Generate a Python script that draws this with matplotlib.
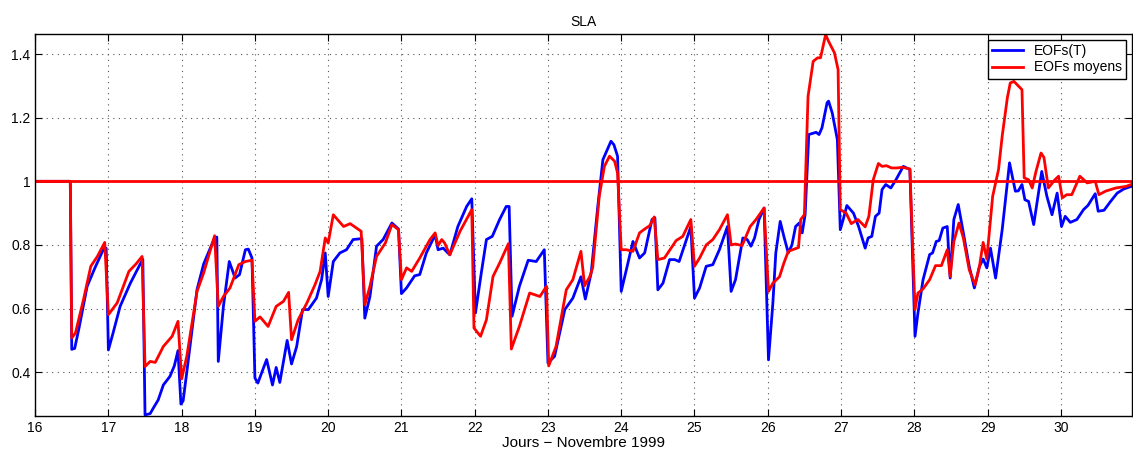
import numpy as np
import matplotlib
matplotlib.use("Agg")
import matplotlib.pyplot as plt
from matplotlib.ticker import FuncFormatter

plt.rcParams['font.family'] = ['Liberation Sans', 'DejaVu Sans']

# EOFs(T) - blue
days_t = [16.0, 16.48, 16.50, 16.54, 16.60, 16.71, 16.82, 16.93, 16.97, 17.0, 17.06, 17.16, 17.30, 17.43, 17.47,
          17.5, 17.57, 17.62, 17.68, 17.75, 17.84, 17.90, 17.95, 17.99, 18.02, 18.07, 18.21, 18.30, 18.44, 18.48,
          18.50, 18.57, 18.65, 18.73, 18.79, 18.87, 18.91, 18.96, 19.0, 19.04, 19.16, 19.24, 19.29, 19.34, 19.44,
          19.50, 19.57, 19.65, 19.73, 19.84, 19.91, 19.96, 20.0, 20.07, 20.16, 20.25, 20.34, 20.46, 20.50, 20.57,
          20.66, 20.75, 20.87, 20.96, 21.0, 21.07, 21.18, 21.25, 21.34, 21.46, 21.50, 21.57, 21.66, 21.77, 21.89,
          21.96, 22.01, 22.09, 22.16, 22.24, 22.34, 22.43, 22.47, 22.51, 22.61, 22.73, 22.84, 22.95, 23.0, 23.09,
          23.23, 23.34, 23.45, 23.51, 23.59, 23.68, 23.75, 23.86, 23.90, 23.95, 24.0, 24.07, 24.16, 24.25, 24.32,
          24.42, 24.46, 24.50, 24.57, 24.66, 24.73, 24.79, 24.86, 24.95, 25.0, 25.07, 25.16, 25.25, 25.34, 25.45,
          25.50, 25.56, 25.66, 25.72, 25.77, 25.82, 25.88, 25.95, 26.01, 26.07, 26.11, 26.17, 26.22, 26.28, 26.33,
          26.38, 26.43, 26.47, 26.51, 26.56, 26.66, 26.70, 26.74, 26.81, 26.83, 26.88, 26.95, 26.99, 27.03, 27.08,
          27.17, 27.24, 27.33, 27.37, 27.42, 27.47, 27.52, 27.56, 27.61, 27.68, 27.75, 27.85, 27.94, 28.01, 28.05,
          28.12, 28.21, 28.25, 28.30, 28.34, 28.39, 28.45, 28.49, 28.54, 28.60, 28.67, 28.75, 28.82, 28.89, 28.94,
          28.99, 29.04, 29.11, 29.20, 29.30, 29.38, 29.42, 29.47, 29.51, 29.56, 29.63, 29.74, 29.81, 29.88, 29.95,
          30.01, 30.06, 30.13, 30.22, 30.31, 30.37, 30.47, 30.51, 30.59, 30.68, 30.77, 30.86, 30.96]
sla_t = [1.0, 1.0, 0.472, 0.475, 0.54, 0.67, 0.73, 0.785, 0.79, 0.47, 0.52, 0.607, 0.68, 0.738, 0.755,
         0.266, 0.27, 0.29, 0.313, 0.36, 0.387, 0.42, 0.468, 0.30, 0.31, 0.40, 0.66, 0.74, 0.817, 0.825,
         0.434, 0.607, 0.748, 0.696, 0.707, 0.785, 0.787, 0.759, 0.382, 0.366, 0.44, 0.36, 0.415, 0.368, 0.50,
         0.426, 0.481, 0.597, 0.597, 0.633, 0.691, 0.775, 0.638, 0.748, 0.775, 0.785, 0.817, 0.82, 0.57, 0.638,
         0.796, 0.817, 0.869, 0.85, 0.647, 0.665, 0.703, 0.707, 0.775, 0.832, 0.785, 0.79, 0.769, 0.858, 0.921,
         0.945, 0.586, 0.712, 0.817, 0.827, 0.88, 0.921, 0.921, 0.576, 0.67, 0.752, 0.748, 0.785, 0.429, 0.45,
         0.597, 0.633, 0.70, 0.63, 0.712, 0.921, 1.068, 1.126, 1.115, 1.079, 0.654, 0.722, 0.811, 0.759, 0.775,
         0.88, 0.885, 0.659, 0.68, 0.754, 0.754, 0.748, 0.796, 0.858, 0.633, 0.665, 0.733, 0.738, 0.785, 0.858,
         0.654, 0.691, 0.822, 0.817, 0.796, 0.822, 0.88, 0.916, 0.439, 0.618, 0.775, 0.874, 0.827, 0.775, 0.80,
         0.858, 0.869, 0.838, 0.895, 1.147, 1.154, 1.147, 1.168, 1.247, 1.252, 1.215, 1.131, 0.848, 0.88, 0.924,
         0.90, 0.858, 0.79, 0.822, 0.827, 0.89, 0.90, 0.974, 0.99, 0.979, 1.005, 1.047, 1.037, 0.513, 0.586,
         0.691, 0.77, 0.775, 0.811, 0.814, 0.853, 0.858, 0.696, 0.88, 0.927, 0.838, 0.733, 0.665, 0.733, 0.756,
         0.728, 0.79, 0.696, 0.848, 1.058, 0.969, 0.97, 0.99, 0.942, 0.937, 0.864, 1.031, 0.953, 0.895, 0.963,
         0.858, 0.89, 0.871, 0.88, 0.911, 0.924, 0.961, 0.906, 0.909, 0.937, 0.963, 0.976, 0.984]

# EOFs moyens - red
days_m = [16.0, 16.48, 16.50, 16.55, 16.66, 16.76, 16.85, 16.95, 17.0, 17.12, 17.28, 17.38, 17.46, 17.5, 17.57,
          17.64, 17.75, 17.87, 17.95, 18.0, 18.07, 18.21, 18.30, 18.45, 18.50, 18.57, 18.66, 18.78, 18.87, 18.96,
          19.0, 19.07, 19.18, 19.29, 19.39, 19.46, 19.50, 19.59, 19.71, 19.82, 19.89, 19.96, 20.0, 20.07, 20.21,
          20.30, 20.45, 20.50, 20.57, 20.66, 20.78, 20.87, 20.96, 21.0, 21.07, 21.14, 21.25, 21.39, 21.46, 21.50,
          21.55, 21.59, 21.66, 21.80, 21.96, 21.99, 22.08, 22.16, 22.25, 22.34, 22.46, 22.50, 22.61, 22.75, 22.89,
          22.98, 23.01, 23.11, 23.25, 23.34, 23.45, 23.50, 23.57, 23.61, 23.70, 23.77, 23.84, 23.91, 23.95, 24.0,
          24.07, 24.16, 24.25, 24.32, 24.39, 24.45, 24.50, 24.59, 24.68, 24.75, 24.84, 24.95, 25.0, 25.07, 25.16,
          25.25, 25.34, 25.45, 25.50, 25.56, 25.65, 25.76, 25.84, 25.95, 26.01, 26.07, 26.16, 26.22, 26.28, 26.36,
          26.42, 26.45, 26.50, 26.55, 26.62, 26.68, 26.72, 26.79, 26.83, 26.91, 26.96, 26.99, 27.07, 27.14, 27.23,
          27.33, 27.38, 27.44, 27.51, 27.56, 27.62, 27.69, 27.76, 27.84, 27.94, 28.01, 28.05, 28.12, 28.21, 28.29,
          28.37, 28.45, 28.49, 28.54, 28.61, 28.67, 28.75, 28.83, 28.89, 28.94, 28.99, 29.07, 29.15, 29.20, 29.27,
          29.31, 29.36, 29.42, 29.47, 29.50, 29.56, 29.61, 29.66, 29.73, 29.77, 29.83, 29.92, 29.97, 30.02, 30.08,
          30.15, 30.26, 30.36, 30.47, 30.52, 30.61, 30.75, 30.89, 30.96]
sla_m = [1.0, 1.0, 0.508, 0.523, 0.628, 0.733, 0.764, 0.808, 0.581, 0.618, 0.717, 0.741, 0.764, 0.418, 0.434,
         0.431, 0.481, 0.513, 0.56, 0.379, 0.45, 0.654, 0.712, 0.829, 0.607, 0.638, 0.665, 0.738, 0.748, 0.752,
         0.56, 0.574, 0.544, 0.607, 0.623, 0.651, 0.502, 0.565, 0.618, 0.675, 0.717, 0.822, 0.806, 0.895, 0.858,
         0.867, 0.843, 0.612, 0.67, 0.764, 0.806, 0.864, 0.848, 0.691, 0.728, 0.717, 0.759, 0.817, 0.838, 0.798,
         0.817, 0.806, 0.769, 0.843, 0.911, 0.539, 0.513, 0.565, 0.701, 0.743, 0.804, 0.473, 0.544, 0.649, 0.638,
         0.67, 0.42, 0.481, 0.659, 0.691, 0.78, 0.672, 0.70, 0.728, 0.953, 1.047, 1.079, 1.063, 1.026, 0.785,
         0.785, 0.78, 0.838, 0.85, 0.861, 0.888, 0.754, 0.759, 0.79, 0.814, 0.827, 0.88, 0.733, 0.759, 0.80,
         0.817, 0.848, 0.895, 0.80, 0.803, 0.798, 0.858, 0.88, 0.916, 0.654, 0.68, 0.70, 0.743, 0.78, 0.787,
         0.792, 0.88, 0.895, 1.267, 1.377, 1.388, 1.388, 1.461, 1.44, 1.404, 1.351, 0.911, 0.90, 0.867, 0.88,
         0.857, 0.89, 1.005, 1.056, 1.047, 1.049, 1.042, 1.042, 1.044, 1.039, 0.597, 0.649, 0.662, 0.691, 0.735,
         0.735, 0.785, 0.701, 0.811, 0.869, 0.822, 0.722, 0.675, 0.733, 0.808, 0.756, 0.953, 1.037, 1.142, 1.262,
         1.309, 1.314, 1.30, 1.288, 1.011, 1.005, 0.979, 1.03, 1.089, 1.075, 0.979, 1.005, 1.016, 0.948, 0.958,
         0.958, 1.016, 0.995, 1.0, 0.958, 0.969, 0.979, 0.984, 0.99]

reference = 1.0
xticks = list(range(16, 31))
yticks = [0.4, 0.6, 0.8, 1.0, 1.2, 1.4]

fig = plt.figure(figsize=(11.33, 4.53), dpi=100)
ax = fig.add_axes([0.031, 0.082, 0.968, 0.843])

ax.plot(days_t, sla_t, color='#0000ff', lw=2, label='EOFs(T)')
ax.plot(days_m, sla_m, color='#ff0000', lw=2, label='EOFs moyens')
ax.axhline(reference, color='#ff0000', lw=2)

ax.set_xlim(16, 30.97)
ax.set_ylim(0.263, 1.463)
ax.set_xticks(xticks)
ax.set_yticks(yticks)
ax.yaxis.set_major_formatter(FuncFormatter(lambda v, p: f"{v:g}"))
ax.tick_params(direction='in', top=True, right=True, labelsize=10, length=5, width=0.8)
ax.grid(True, linestyle=(0, (1, 4)), color='#555555', linewidth=0.8)
for s in ax.spines.values():
    s.set_linewidth(1.0)

ax.set_title('SLA', fontsize=10)
ax.set_xlabel('Jours \u2212 Novembre 1999', fontsize=11, labelpad=1)

leg = ax.legend(loc='upper right', fontsize=10, fancybox=False, framealpha=1, edgecolor='black',
                borderaxespad=0.4, handlelength=2.2, borderpad=0.3, labelspacing=0.2)
leg.get_frame().set_linewidth(1.0)

fig.savefig('out.png', dpi=100)
